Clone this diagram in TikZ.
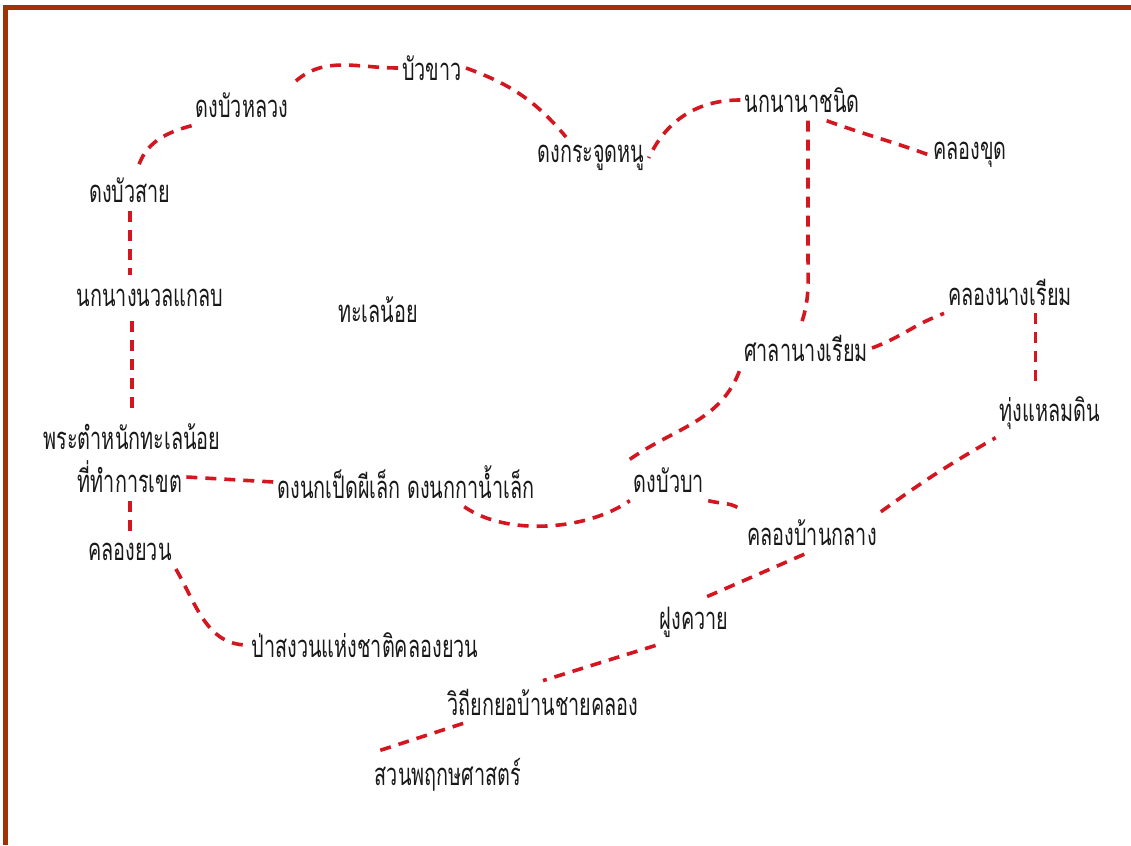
\documentclass[tikz,border=0pt]{standalone}
\usepackage{fontspec}
\newfontfamily\thaifont[Script=Thai,FakeStretch=0.64]{Loma}
\usetikzlibrary{positioning}
\definecolor{framebrown}{RGB}{160,50,5}
\definecolor{trailred}{RGB}{212,22,32}

\begin{document}
\begin{tikzpicture}[x=1pt, y=1pt,
		% Define styles
		place/.style={inner xsep=4pt, inner ysep=8pt, align=center, text=black!90, font=\thaifont\fontsize{31}{35}\selectfont},
		trail/.style={draw=trailred, line width=3.6pt, dash pattern=on 11pt off 8pt},
		frameline/.style={draw=framebrown, line width=5pt}
		]
		
		\useasboundingbox (0,0) rectangle (1131,-845);
		
		% Frame
		\draw[frameline] (5.5,-845) -- (5.5,-8) -- (1131,-8);
		
		% Places, left loop
		\node[place] (bk) at (432,-68) {บัวขาว};
		\node[place] (dbl) at (242,-105) {ดงบัวหลวง};
		\node[place] (dbs) at (130,-190) {ดงบัวสาย};
		\node[place] (nnl) at (150,-298) {นกนางนวลแกลบ};
		\node[place] (tnl) at (378,-310) {ทะเลน้อย};
		\node[place] (pt) at (132,-437) {พระตำหนักทะเลน้อย};
		\node[place] (office) at (130,-477) {ที่ทำการเขต};
		\node[place] (ky) at (130,-552) {คลองยวน};
		\node[place] (psn) at (365,-645) {ป่าสงวนแห่งชาติคลองยวน};
		
		% Places, middle
		\node[place] (dnp) at (406,-482) {ดงนกเป็ดผีเล็ก ดงนกกาน้ำเล็ก};
		\node[place] (dbb) at (669,-480) {ดงบัวบา};
		\node[place] (kbk) at (812,-533) {คลองบ้านกลาง};
		\node[place] (fk) at (694,-622) {ฝูงควาย};
		\node[place] (wt) at (543,-702) {วิถียกยอบ้านชายคลอง};
		\node[place] (sp) at (448,-775) {สวนพฤกษศาสตร์};
		
		% Places, right
		\node[place] (dkn) at (591,-158) {ดงกระจูดหนู};
		\node[place] (nnc) at (802,-100) {นกนานาชนิด};
		\node[place] (kk) at (970,-155) {คลองขุด};
		\node[place] (snr) at (806,-348) {ศาลานางเรียม};
		\node[place] (knr) at (1010,-292) {คลองนางเรียม};
		\node[place] (tld) at (1050,-413) {ทุ่งแหลมดิน};
		\coordinate (nncbend) at (808,-255);
		
		% Trails, left loop
		\draw[trail] (bk.west) to[out=180, in=45] (dbl.north east);
		\draw[trail] (dbl.south west) to[out=195, in=75] (dbs.70);
		\draw[trail, shorten >=6pt] (dbs.south) -- (dbs.south |- nnl.north);
		\draw[trail, shorten <=6pt] (pt.north |- nnl.south) -- (pt.north);
		\draw[trail] (office.east) -- (dnp.west);
		\draw[trail] (office.south) -- (office.south |- ky.north);
		\draw[trail] (ky.south east) to[out=-60, in=180] (psn.west);
		
		% Trails, middle
		\draw[trail] (dnp.-23) to[out=-35, in=215, looseness=0.8] (dbb.south west);
		\draw[trail] (dbb.north west) to[out=35, in=250] (snr.south west);
		\draw[trail] (dbb.south east) to[out=-15, in=135] (kbk.north west);
		\draw[trail] (kbk.north east) to[bend left=3] (tld.south west);
		\draw[trail] (kbk.-110) -- (fk.70);
		\draw[trail] (fk.south west) -- (wt.north);
		\draw[trail] (wt.-165) -- (sp.160);
		
		% Trails, right
		\draw[trail] (bk.east) to[out=-20, in=130] (dkn.140);
		\draw[trail] (nnc.west) to[out=180, in=65] (dkn.east);
		\draw[trail] (nnc.-40) to[out=-20, in=160] (kk.west);
		\draw[trail] (nnc.south -| nncbend) -- (nncbend) to[out=-90, in=70] (snr.105);
		\draw[trail] (snr.east) to[out=20, in=200] (knr.south west);
		\draw[trail] (knr.-40) -- (knr.-40 |- tld.north);
		
	\end{tikzpicture}
\end{document}
